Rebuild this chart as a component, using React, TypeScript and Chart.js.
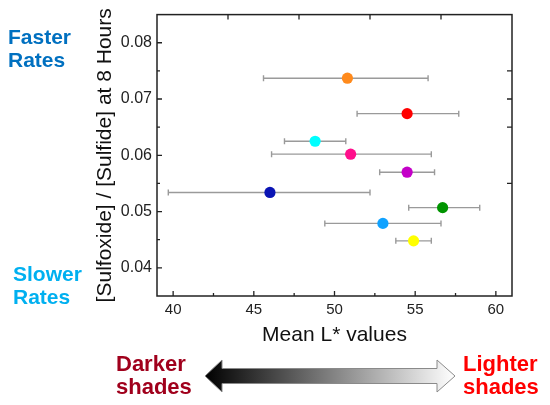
import React, { useEffect, useRef } from 'react';
import { Chart, registerables } from 'chart.js';

Chart.register(...registerables);

// mean L* (x), error bar ends and sulfoxide/sulfide ratio (y), one entry per sample
const lValues = [50.8, 54.5, 48.8, 51.0, 54.5, 46.0, 56.7, 53.0, 54.9];
const lLow = [45.6, 51.4, 46.9, 46.1, 52.8, 39.7, 54.6, 49.4, 53.8];
const lHigh = [55.8, 57.7, 50.7, 56.0, 56.2, 52.2, 59.0, 56.6, 56.0];
const ratioValues = [0.0737, 0.0674, 0.0625, 0.0602, 0.057, 0.0534, 0.0507, 0.0479, 0.0448];
const pointColors = ['#FF8A1C', '#FF0000', '#00FFFF', '#FF0F8C', '#C400C8', '#0A14B4', '#009400', '#10A2FF', '#FFFF00'];

const xTicks = [40, 45, 50, 55, 60];
const xMinorTicks = [42.5, 47.5, 52.5, 57.5];
const yTicks = [0.04, 0.05, 0.06, 0.07, 0.08];
const yMinorTicks = [0.045, 0.055, 0.065, 0.075];

const FONT = '"Liberation Sans", Arial, sans-serif';
const AXIS = '#222';

// error bars under the markers
const errorBars = {
  id: 'errorBars',
  beforeDatasetsDraw(chart: any) {
    const { ctx, scales } = chart;
    ctx.save();
    ctx.strokeStyle = '#9a9a9a';
    ctx.lineWidth = 1.4;
    lValues.forEach((_, i) => {
      const y = scales.y.getPixelForValue(ratioValues[i]);
      const x0 = scales.x.getPixelForValue(lLow[i]);
      const x1 = scales.x.getPixelForValue(lHigh[i]);
      ctx.beginPath();
      ctx.moveTo(x0, y);
      ctx.lineTo(x1, y);
      ctx.moveTo(x0, y - 3);
      ctx.lineTo(x0, y + 3);
      ctx.moveTo(x1, y - 3);
      ctx.lineTo(x1, y + 3);
      ctx.stroke();
    });
    ctx.restore();
  },
};

// frame with inward ticks
const frame = {
  id: 'frame',
  afterDraw(chart: any) {
    const { ctx, chartArea: a, scales } = chart;
    ctx.save();
    ctx.strokeStyle = AXIS;
    ctx.lineWidth = 1.5;
    ctx.strokeRect(a.left, a.top, a.right - a.left, a.bottom - a.top);
    ctx.lineWidth = 1.3;
    ctx.beginPath();
    xTicks.forEach((v) => {
      const x = scales.x.getPixelForValue(v);
      ctx.moveTo(x, a.bottom);
      ctx.lineTo(x, a.bottom - 5);
    });
    xMinorTicks.forEach((v) => {
      const x = scales.x.getPixelForValue(v);
      ctx.moveTo(x, a.bottom);
      ctx.lineTo(x, a.bottom - 3);
    });
    yTicks.forEach((v) => {
      const y = scales.y.getPixelForValue(v);
      ctx.moveTo(a.left, y);
      ctx.lineTo(a.left + 5, y);
    });
    yMinorTicks.forEach((v) => {
      const y = scales.y.getPixelForValue(v);
      ctx.moveTo(a.left, y);
      ctx.lineTo(a.left + 3, y);
    });
    [0.2, 0.4, 0.6, 0.8].forEach((f) => {
      const x = a.left + (a.right - a.left) * f;
      ctx.moveTo(x, a.top);
      ctx.lineTo(x, a.top + 5);
    });
    [0.2, 0.3, 0.4, 0.6].forEach((f) => {
      const y = a.top + (a.bottom - a.top) * f;
      ctx.moveTo(a.right, y);
      ctx.lineTo(a.right - 5, y);
    });
    ctx.stroke();
    ctx.restore();
  },
};

const ScatterChart: React.FC = () => {
  const canvasRef = useRef<HTMLCanvasElement>(null);

  useEffect(() => {
    const ctx = canvasRef.current!.getContext('2d');
    const chart = new Chart(ctx!, {
      type: 'scatter',
      data: {
        datasets: [
          {
            data: lValues.map((x, i) => ({ x, y: ratioValues[i] })),
            pointBackgroundColor: pointColors,
            pointBorderColor: pointColors,
            pointBorderWidth: 0,
            pointRadius: 5.6,
          },
        ],
      },
      options: {
        animation: false,
        responsive: false,
        events: [],
        layout: { padding: { top: 9, right: 38, left: 0, bottom: 0 } },
        plugins: { legend: { display: false }, tooltip: { enabled: false } },
        scales: {
          x: {
            type: 'linear',
            min: 39,
            max: 61,
            grid: { display: false, drawTicks: false },
            border: { display: false },
            afterBuildTicks: (s: any) => {
              s.ticks = xTicks.map((value) => ({ value }));
            },
            afterFit: (s: any) => {
              s.height = 109;
            },
            ticks: { color: AXIS, padding: 5, font: { family: FONT, size: 15 } },
            title: {
              display: true,
              text: 'Mean L* values',
              color: '#111',
              font: { family: FONT, size: 21 },
              padding: { top: 0, bottom: 57 },
            },
          },
          y: {
            type: 'linear',
            min: 0.035,
            max: 0.085,
            grid: { display: false, drawTicks: false },
            border: { display: false },
            afterBuildTicks: (s: any) => {
              s.ticks = yTicks.map((value) => ({ value }));
            },
            afterFit: (s: any) => {
              s.width = 157;
            },
            ticks: {
              color: AXIS,
              padding: 5,
              font: { family: FONT, size: 16 },
              callback: (v: any) => Number(v).toFixed(2),
            },
            title: {
              display: true,
              text: '[Sulfoxide] / [Sulfide] at 8 Hours',
              color: '#111',
              font: { family: FONT, size: 21 },
              padding: { top: 93, bottom: 0 },
            },
          },
        },
      },
      plugins: [errorBars, frame],
    });

    return () => {
      chart.destroy();
    };
  }, []);

  return <canvas ref={canvasRef} width={550} height={405} style={{ width: 550, height: 405 }} />;
};

const label = (left: number, top: number, color: string, size: number, lines: string[]) => (
  <div
    style={{
      position: 'absolute',
      left,
      top,
      color,
      fontFamily: FONT,
      fontWeight: 'bold',
      fontSize: size,
      lineHeight: '23px',
      whiteSpace: 'nowrap',
    }}
  >
    {lines.map((t) => (
      <div key={t}>{t}</div>
    ))}
  </div>
);

const App: React.FC = () => (
  <div style={{ position: 'absolute', left: 0, top: 0, width: 550, height: 405, background: '#fff' }}>
    <ScatterChart />
    {label(8, 25, '#0070C0', 21, ['Faster', 'Rates'])}
    {label(13, 262, '#00B0F0', 21, ['Slower', 'Rates'])}
    {label(116, 352, '#A0001C', 22, ['Darker', 'shades'])}
    {label(463, 352, '#FF0000', 22, ['Lighter', 'shades'])}
    <svg width={550} height={405} style={{ position: 'absolute', left: 0, top: 0, pointerEvents: 'none' }}>
      <defs>
        <linearGradient id="shade" x1="0" x2="1" y1="0" y2="0">
          <stop offset="0" stopColor="#000" />
          <stop offset="1" stopColor="#fff" />
        </linearGradient>
      </defs>
      <polygon
        points="205,376 222,360 222,368.5 437,368.5 437,360 455,376 437,392 437,383.5 222,383.5 222,392"
        fill="url(#shade)"
        stroke="#8a8a8a"
        strokeWidth={1}
      />
    </svg>
  </div>
);

export default App;
